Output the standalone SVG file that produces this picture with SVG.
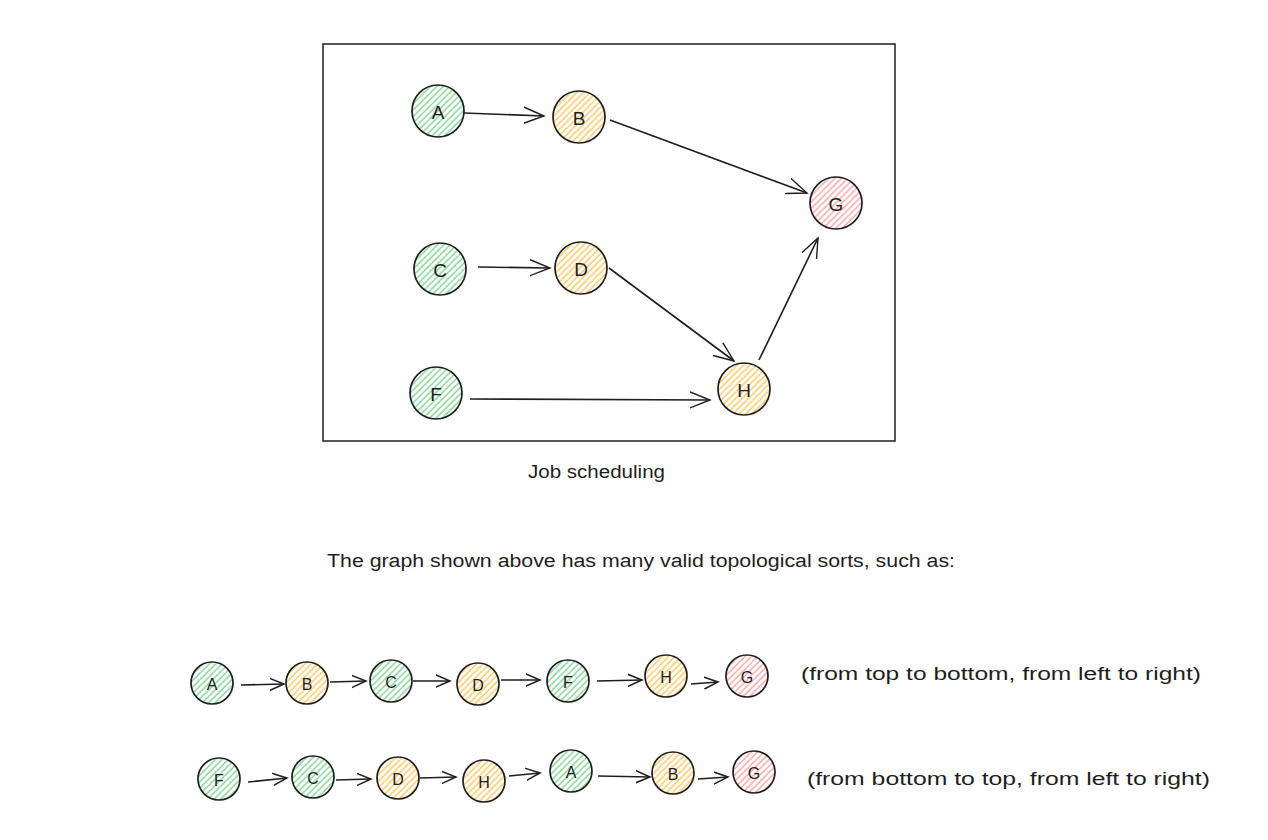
<svg xmlns="http://www.w3.org/2000/svg" width="1268" height="840" viewBox="0 0 1268 840">
<defs>
<pattern id="hg" patternUnits="userSpaceOnUse" width="4.5" height="4.5" patternTransform="rotate(45)"><rect width="4.5" height="4.5" fill="#fff"/><line x1="1" y1="0" x2="1" y2="4.5" stroke="#8ad69a" stroke-width="1.5"/></pattern>
<pattern id="ho" patternUnits="userSpaceOnUse" width="4.5" height="4.5" patternTransform="rotate(45)"><rect width="4.5" height="4.5" fill="#fff"/><line x1="1" y1="0" x2="1" y2="4.5" stroke="#ffcb66" stroke-width="1.5"/></pattern>
<pattern id="hr" patternUnits="userSpaceOnUse" width="4.5" height="4.5" patternTransform="rotate(45)"><rect width="4.5" height="4.5" fill="#fff"/><line x1="1" y1="0" x2="1" y2="4.5" stroke="#ffa8a8" stroke-width="1.5"/></pattern>
<marker id="ar" markerWidth="30" markerHeight="30" refX="20" refY="10" orient="auto" markerUnits="userSpaceOnUse" viewBox="0 0 30 20"><path d="M0,2 L20,10 L0,18" fill="none" stroke="#1e1e1e" stroke-width="1.4" stroke-linecap="round"/></marker>
<marker id="ars" markerWidth="20" markerHeight="20" refX="14" refY="7" orient="auto" markerUnits="userSpaceOnUse" viewBox="0 0 20 14"><path d="M0,1 L14,7 L0,13" fill="none" stroke="#1e1e1e" stroke-width="1.5" stroke-linecap="round"/></marker>
</defs>
<style>
.n{stroke:#1e1e1e;stroke-width:1.7}
.g{fill:url(#hg)}.o{fill:url(#ho)}.r{fill:url(#hr)}
.t{font-family:"Liberation Sans",sans-serif;fill:#1e1e1e;text-anchor:middle;dominant-baseline:central}
.big{font-size:19px}.sm{font-size:16px}
.e{fill:none;stroke:#1e1e1e;stroke-width:1.6;marker-end:url(#ar)}
.es{fill:none;stroke:#1e1e1e;stroke-width:1.6;marker-end:url(#ars)}
.lbl{font-family:"Liberation Sans",sans-serif;fill:#1e1e1e;font-size:18px}
</style>
<rect x="323" y="44" width="572" height="397" fill="none" stroke="#1e1e1e" stroke-width="1.5"/>
<g id="connectors">
<line class="e" x1="464" y1="113" x2="544" y2="116"/>
<line class="e" x1="610" y1="120" x2="807" y2="193"/>
<line class="e" x1="478" y1="267" x2="550" y2="268"/>
<line class="e" x1="609" y1="268" x2="734" y2="361"/>
<line class="e" x1="759" y1="360" x2="818" y2="238"/>
<line class="e" x1="470" y1="399" x2="710" y2="400"/>
<line class="es" x1="241" y1="685" x2="284" y2="684"/>
<line class="es" x1="330" y1="682" x2="366" y2="681"/>
<line class="es" x1="413" y1="681" x2="450" y2="681"/>
<line class="es" x1="501" y1="680" x2="540" y2="680"/>
<line class="es" x1="597" y1="681" x2="642" y2="680"/>
<line class="es" x1="691" y1="684" x2="718" y2="682"/>
<line class="es" x1="248" y1="782" x2="287" y2="778"/>
<line class="es" x1="336" y1="780" x2="371" y2="779"/>
<line class="es" x1="420" y1="778" x2="456" y2="777"/>
<line class="es" x1="509" y1="776" x2="540" y2="773"/>
<line class="es" x1="598" y1="776" x2="650" y2="777"/>
<line class="es" x1="698" y1="779" x2="728" y2="777"/>
</g>
<g id="A"><circle class="n g" cx="438" cy="111" r="26"/><text class="t big" x="438" y="112">A</text></g>
<g id="B"><circle class="n o" cx="579" cy="117" r="26"/><text class="t big" x="579" y="118">B</text></g>
<g id="G"><circle class="n r" cx="836" cy="203" r="26"/><text class="t big" x="836" y="204">G</text></g>
<g id="C"><circle class="n g" cx="440" cy="269" r="26"/><text class="t big" x="440" y="270">C</text></g>
<g id="D"><circle class="n o" cx="581" cy="268" r="26"/><text class="t big" x="581" y="269">D</text></g>
<g id="F"><circle class="n g" cx="436" cy="393" r="26"/><text class="t big" x="436" y="394">F</text></g>
<g id="H"><circle class="n o" cx="744" cy="389" r="26"/><text class="t big" x="744" y="390">H</text></g>
<text class="lbl" x="528" y="478" textLength="137" lengthAdjust="spacingAndGlyphs">Job scheduling</text>
<text class="lbl" x="327" y="567" textLength="628" lengthAdjust="spacingAndGlyphs">The graph shown above has many valid topological sorts, such as:</text>
<g id="r1A"><circle class="n g" cx="212" cy="683" r="21"/><text class="t sm" x="212" y="684">A</text></g>
<g id="r1B"><circle class="n o" cx="307" cy="683" r="21"/><text class="t sm" x="307" y="684">B</text></g>
<g id="r1C"><circle class="n g" cx="391" cy="681" r="21"/><text class="t sm" x="391" y="682">C</text></g>
<g id="r1D"><circle class="n o" cx="478" cy="684" r="21"/><text class="t sm" x="478" y="685">D</text></g>
<g id="r1F"><circle class="n g" cx="568" cy="681" r="21"/><text class="t sm" x="568" y="682">F</text></g>
<g id="r1H"><circle class="n o" cx="666" cy="676" r="21"/><text class="t sm" x="666" y="677">H</text></g>
<g id="r1G"><circle class="n r" cx="747" cy="676" r="21"/><text class="t sm" x="747" y="677">G</text></g>
<g id="r2F"><circle class="n g" cx="219" cy="779" r="21"/><text class="t sm" x="219" y="780">F</text></g>
<g id="r2C"><circle class="n g" cx="313" cy="777" r="21"/><text class="t sm" x="313" y="778">C</text></g>
<g id="r2D"><circle class="n o" cx="398" cy="778" r="21"/><text class="t sm" x="398" y="779">D</text></g>
<g id="r2H"><circle class="n o" cx="484" cy="781" r="21"/><text class="t sm" x="484" y="782">H</text></g>
<g id="r2A"><circle class="n g" cx="571" cy="771" r="21"/><text class="t sm" x="571" y="772">A</text></g>
<g id="r2B"><circle class="n o" cx="673" cy="773" r="21"/><text class="t sm" x="673" y="774">B</text></g>
<g id="r2G"><circle class="n r" cx="754" cy="772" r="21"/><text class="t sm" x="754" y="773">G</text></g>
<text class="lbl" x="801" y="680" textLength="400" lengthAdjust="spacingAndGlyphs">(from top to bottom, from left to right)</text>
<text class="lbl" x="807" y="785" textLength="403" lengthAdjust="spacingAndGlyphs">(from bottom to top, from left to right)</text>
</svg>
